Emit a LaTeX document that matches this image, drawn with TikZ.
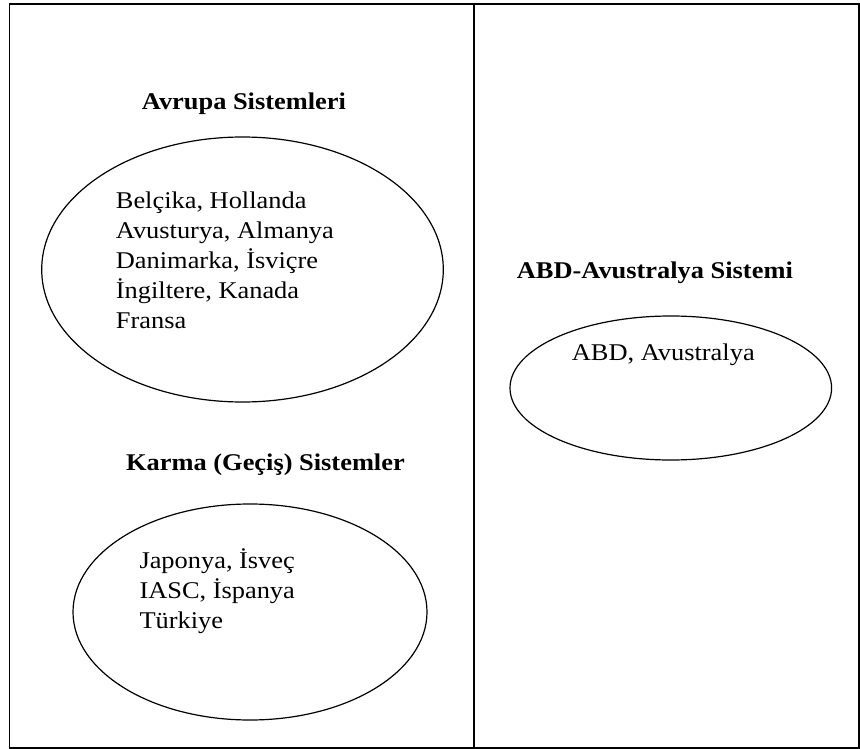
\documentclass[tikz,border=0pt]{standalone}
\usepackage{fontspec}
\setmainfont{Liberation Serif}[FakeStretch=1.1]
\usetikzlibrary{shapes.geometric}

\begin{document}
\begin{tikzpicture}[x=1pt,y=-1pt,
  frame/.style={line width=1.8pt},
  bubble/.style={draw, ellipse, line width=1.2pt, inner sep=0pt},
  heading/.style={font=\fontsize{24}{30}\selectfont\bfseries, anchor=base west, inner sep=0pt},
  entry/.style={font=\fontsize{24}{30}\selectfont, anchor=base west, inner sep=0pt}]
\useasboundingbox (0,0) rectangle (860,749);

% table frame and column divider
\coordinate (tl) at (9.5,4);
\coordinate (br) at (858.6,747.6);
\draw[frame] (tl) rectangle (br);
\coordinate (dtop) at (474,4);
\coordinate (dbot) at (474,747.6);
\draw[frame] (dtop) -- (dbot);

% left column: European systems
\node[heading] (avrupaT) at (141.7,110) {Avrupa Sistemleri};
\node[bubble, minimum width=401.6pt, minimum height=265pt] (avrupaE) at (242.5,269.5) {};
\node[entry] (a1) at (115.7,208) {Belçika, Hollanda};
\node[entry] (a2) at (115.7,238) {Avusturya, Almanya};
\node[entry] (a3) at (115.7,268) {Danimarka, İsviçre};
\node[entry] (a4) at (115.7,298) {İngiltere, Kanada};
\node[entry] (a5) at (115.7,328) {Fransa};

% left column: mixed (transition) systems
\node[heading] (karmaT) at (126,470.7) {Karma (Geçiş) Sistemler};
\node[bubble, minimum width=354pt, minimum height=216pt] (karmaE) at (250,612) {};
\node[entry] (k1) at (139.3,568) {Japonya, İsveç};
\node[entry] (k2) at (139.3,598) {IASC, İspanya};
\node[entry] (k3) at (139.3,628) {Türkiye};

% right column: USA-Australia system
\node[heading] (abdT) at (516.7,278.3) {ABD-Avustralya Sistemi};
\node[bubble, minimum width=321.6pt, minimum height=144pt] (abdE) at (670.8,388) {};
\node[entry] (b1) at (571.7,360.7) {ABD, Avustralya};
\end{tikzpicture}
\end{document}
